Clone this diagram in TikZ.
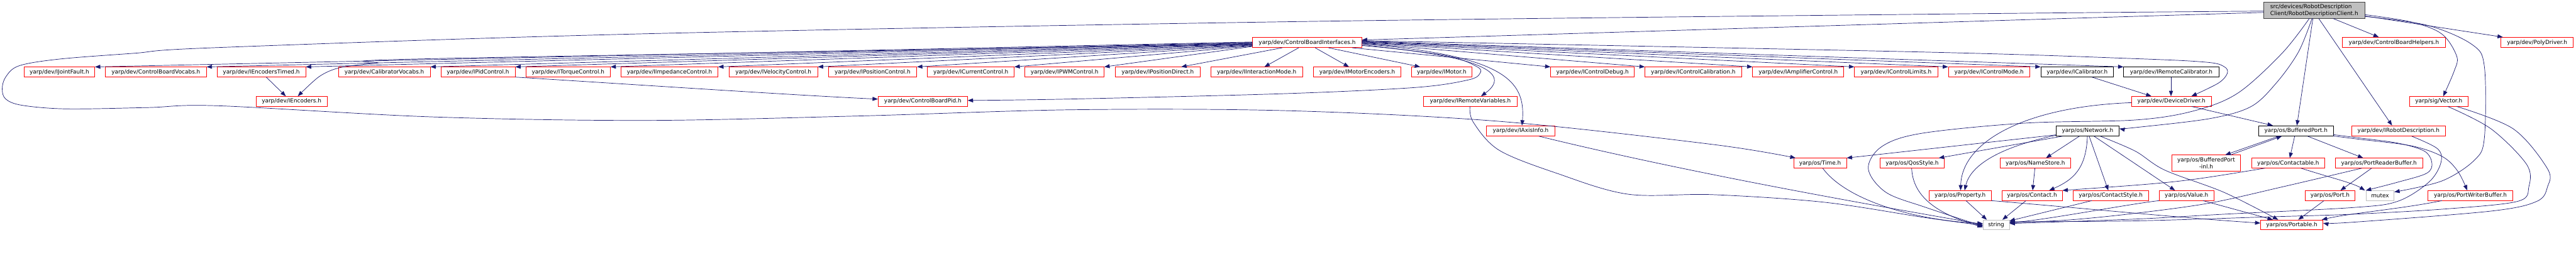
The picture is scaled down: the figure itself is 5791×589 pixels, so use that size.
\documentclass[tikz,border=0pt]{standalone}
\usepackage{fontspec}
\setmainfont{DejaVu Sans}
\usetikzlibrary{arrows.meta}
\definecolor{edgec}{HTML}{191970}
\definecolor{redb}{HTML}{FF0000}
\definecolor{blkb}{HTML}{404040}
\definecolor{grayb}{HTML}{BFBFBF}
\newcommand\nd[7]{\node[#6, minimum width={#4-#2}, minimum height={#5-#3}] (#1) at ({(#2+#4)/2},{(#3+#5)/2}) {#7};}
\tikzset{
  x=1pt, y=-1pt,
  nbox/.style={draw=redb, line width=1pt, fill=white, inner sep=0pt, font=\fontsize{12.6}{15}\selectfont},
  kbox/.style={nbox, draw=black},
  gbox/.style={nbox, draw=grayb},
  rbox/.style={nbox, draw=blkb, fill=grayb, align=left},
  edge/.style={draw=edgec, line width=1pt, -{Triangle[length=12pt,width=9pt]}, fill=none},
}
\begin{document}
\begin{tikzpicture}
\useasboundingbox (0,0) rectangle (5791,589);
% row 0/1
\nd{root}{5089}{5}{5316}{41}{rbox}{src/devices/RobotDescription\\Client/RobotDescriptionClient.h}
\nd{cbi}{2816}{84}{3061}{107}{nbox}{yarp/dev/ControlBoardInterfaces.h}
\nd{cbh}{5266}{84}{5497}{107}{nbox}{yarp/dev/ControlBoardHelpers.h}
\nd{poly}{5622}{84}{5785}{107}{nbox}{yarp/dev/PolyDriver.h}
% row 2
\nd{ijf}{54}{151}{213}{173}{nbox}{yarp/dev/IJointFault.h}
\nd{cbv}{237}{151}{464}{173}{nbox}{yarp/dev/ControlBoardVocabs.h}
\nd{iet}{488}{151}{687}{173}{nbox}{yarp/dev/IEncodersTimed.h}
\nd{calv}{761}{151}{967}{173}{nbox}{yarp/dev/CalibratorVocabs.h}
\nd{ipid}{991}{151}{1158}{173}{nbox}{yarp/dev/IPidControl.h}
\nd{itq}{1182}{151}{1372}{173}{nbox}{yarp/dev/ITorqueControl.h}
\nd{iimp}{1396}{151}{1614}{173}{nbox}{yarp/dev/IImpedanceControl.h}
\nd{ivel}{1639}{151}{1838}{173}{nbox}{yarp/dev/IVelocityControl.h}
\nd{ipos}{1862}{151}{2061}{173}{nbox}{yarp/dev/IPositionControl.h}
\nd{icur}{2085}{151}{2280}{173}{nbox}{yarp/dev/ICurrentControl.h}
\nd{ipwm}{2304}{151}{2482}{173}{nbox}{yarp/dev/IPWMControl.h}
\nd{ipd}{2507}{151}{2698}{173}{nbox}{yarp/dev/IPositionDirect.h}
\nd{iim}{2722}{151}{2928}{173}{nbox}{yarp/dev/IInteractionMode.h}
\nd{ime}{2953}{151}{3149}{173}{nbox}{yarp/dev/IMotorEncoders.h}
\nd{imot}{3173}{151}{3309}{173}{nbox}{yarp/dev/IMotor.h}
\nd{icd}{3486}{151}{3674}{173}{nbox}{yarp/dev/IControlDebug.h}
\nd{icc}{3698}{151}{3915}{173}{nbox}{yarp/dev/IControlCalibration.h}
\nd{iamp}{3940}{151}{4145}{173}{nbox}{yarp/dev/IAmplifierControl.h}
\nd{icl}{4169}{151}{4356}{173}{nbox}{yarp/dev/IControlLimits.h}
\nd{icm}{4380}{151}{4563}{173}{nbox}{yarp/dev/IControlMode.h}
\nd{ical}{4588}{151}{4751}{173}{kbox}{yarp/dev/ICalibrator.h}
\nd{irc}{4774}{151}{4988}{173}{kbox}{yarp/dev/IRemoteCalibrator.h}
% row 3
\nd{ienc}{576}{217}{735}{239}{nbox}{yarp/dev/IEncoders.h}
\nd{cbpid}{1974}{217}{2175}{239}{nbox}{yarp/dev/ControlBoardPid.h}
\nd{irv}{3200}{217}{3411}{239}{nbox}{yarp/dev/IRemoteVariables.h}
\nd{dd}{4792}{217}{4971}{239}{nbox}{yarp/dev/DeviceDriver.h}
\nd{vec}{5417}{217}{5548}{239}{nbox}{yarp/sig/Vector.h}
% row 4
\nd{iax}{3342}{283}{3495}{306}{nbox}{yarp/dev/IAxisInfo.h}
\nd{net}{4622}{283}{4764}{306}{kbox}{yarp/os/Network.h}
\nd{bp}{5078}{283}{5245}{306}{kbox}{yarp/os/BufferedPort.h}
\nd{ird}{5287}{283}{5497}{306}{nbox}{yarp/dev/IRobotDescription.h}
% row 5
\nd{time}{4032}{356}{4151}{378}{nbox}{yarp/os/Time.h}
\nd{qos}{4226}{356}{4371}{378}{nbox}{yarp/os/QosStyle.h}
\nd{ns}{4496}{356}{4655}{378}{nbox}{yarp/os/NameStore.h}
\node[nbox, align=center, minimum width=155, minimum height=36] (bpi) at (4959.5,367) {yarp/os/BufferedPort\\-inl.h};
\nd{ctb}{5062}{356}{5226}{378}{nbox}{yarp/os/Contactable.h}
\nd{prb}{5250}{356}{5446}{378}{nbox}{yarp/os/PortReaderBuffer.h}
% row 6
\nd{prop}{4337}{429}{4476}{451}{nbox}{yarp/os/Property.h}
\nd{con}{4500}{429}{4636}{451}{nbox}{yarp/os/Contact.h}
\nd{cs}{4660}{429}{4830}{451}{nbox}{yarp/os/ContactStyle.h}
\nd{val}{4854}{429}{4977}{451}{nbox}{yarp/os/Value.h}
\nd{port}{5182}{429}{5294}{451}{nbox}{yarp/os/Port.h}
\nd{mutex}{5319}{429}{5382}{451}{gbox}{mutex}
\nd{pwb}{5458}{429}{5649}{451}{nbox}{yarp/os/PortWriterBuffer.h}
% row 7
\nd{str}{4458}{495}{4517}{517}{gbox}{string}
\nd{portable}{5082}{495}{5222}{517}{nbox}{yarp/os/Portable.h}

% ---- edges from root
\draw[edge] ([yshift=-5]root.west) -- ([yshift=5.5]cbi.east);
\draw[edge] plot[smooth,tension=0.55] coordinates {([yshift=-2]root.west) (4330,32) (2890,49) (1450,76) (490,107) (300,120) (133,133) (43,148) (13,173) (5,200) (13,223) (50,237) (150,245) (333,242) (490,238) (970,263) (1450,271) (1930,261) (2410,247) (2890,249) (3370,273) (3850,325) ([xshift=5]time.north west)};
\draw[edge] plot[smooth,tension=0.55] coordinates {([xshift=103]root.south west) (5130,120) (5030,210) (4930,250) (4800,270) (4553,277) (4320,300) (4230,330) (4200,380) (4240,433) (4330,467) ([yshift=-3]str.west)};
\draw[edge] plot[smooth,tension=0.55] coordinates {([xshift=109]root.south west) (5167,117) (5117,187) (5060,240) (4967,267) (4800,287) ([yshift=5]net.east)};
\draw[edge] ([xshift=111]root.south west) -- ([xshift=86]bp.north west);
\draw[edge] ([xshift=124]root.south west) -- ([xshift=91]ird.north west);
\draw[edge] ([xshift=156]root.south west) -- ([xshift=82]cbh.north west);
\draw[edge] ([yshift=-13]root.east) -- ([xshift=5]poly.north west);
\draw[edge] plot[smooth,tension=0.55] coordinates {([yshift=-10]root.east) (5423,50) (5490,77) (5523,127) (5517,160) ([xshift=76]vec.north west)};
\draw[edge] plot[smooth,tension=0.55] coordinates {([yshift=-14]root.east) (5457,57) (5557,100) (5585,150) (5585,310) (5563,360) (5490,407) ([yshift=8]mutex.east)};

% ---- fan from ControlBoardInterfaces
\foreach \n/\s in {ijf/1, cbv/0, iet/-1, calv/-2, ipid/-3, itq/-4, iimp/-5, ivel/-6, ipos/-7, icur/-8, ipwm/-9}
  \draw[edge] ([yshift=\s]cbi.west) -- (\n.north east);
\draw[edge] ([xshift=67]cbi.south west) -- ([xshift=-43]ipd.north east);
\draw[edge] ([xshift=104]cbi.south west) -- ([xshift=121]iim.north west);
\draw[edge] ([xshift=141]cbi.south west) -- ([xshift=80]ime.north west);
\draw[edge] ([xshift=171]cbi.south west) -- ([xshift=20]imot.north west);
\draw[edge] ([xshift=224]cbi.south west) -- (icd.north west);
\foreach \n/\s in {irc/3, ical/2, icm/1, icl/0, iamp/-1, icc/-2}
  \draw[edge] ([yshift=\s]cbi.east) -- (\n.north west);
\draw[edge] plot[smooth,tension=0.55] coordinates {([yshift=4]cbi.east) (4320,117) (4800,132) (4960,140) (5000,150) (5007,165) (4987,187) ([xshift=135]dd.north west)};
\draw[edge] plot[smooth,tension=0.5] coordinates {([yshift=-4]cbi.west) (970,132) (847,142) (765,152) (718,172) ([xshift=94]ienc.north west)};
\draw[edge] plot[smooth,tension=0.55] coordinates {([yshift=-5]cbi.east) (3250,125) (3320,150) (3327,165) (3300,180) (3180,197) (2880,211) (2400,223) ([yshift=2]cbpid.east)};
\draw[edge] ([yshift=-7]cbi.east) .. controls (3330,125) and (3400,165) .. ([xshift=130]irv.north west);
\draw[edge] ([yshift=-3]cbi.east) .. controls (3380,125) and (3430,180) .. ([xshift=80]iax.north west);

% ---- row 2/3
\draw[edge] ([xshift=111]iet.south west) -- ([xshift=67]ienc.north west);
\draw[edge] (ipid.south east) .. controls (1500,195) and (1800,215) .. ([yshift=5]cbpid.west);
\draw[edge] ([xshift=115]ical.south west) -- ([xshift=45]dd.north west);
\draw[edge] ([xshift=107]irc.south west) -- ([xshift=89]dd.north west);
\draw[edge] ([yshift=-3]dd.west) .. controls (4550,240) and (4410,320) .. ([xshift=71]prop.north west);
\draw[edge] ([xshift=135]dd.south west) -- ([xshift=32]bp.north west);
\draw[edge] plot[smooth,tension=0.55] coordinates {([xshift=105]irv.south west) (3312,275) (3370,338) (3500,390) (3660,437) (3850,438) (4100,455) (4330,490) ([yshift=-1]str.west)};
\draw[edge] ([xshift=118]iax.south west) .. controls (3800,390) and (4200,460) .. ([yshift=1]str.west);
\draw[edge] ([xshift=66]time.south west) .. controls (4150,450) and (4300,495) .. ([yshift=3]str.west);
\draw[edge] ([xshift=72]qos.south west) .. controls (4300,440) and (4350,480) .. ([yshift=-5]str.west);

% ---- Network
\draw[edge] ([yshift=-9]net.west) -- (time.north east);
\draw[edge] ([xshift=15]net.south west) -- ([xshift=-13]qos.north east);
\draw[edge] ([yshift=-10]net.west) .. controls (4500,330) and (4430,370) .. ([xshift=80]prop.north west);
\draw[edge] ([xshift=53]net.south west) -- ([xshift=104]ns.north west);
\draw[edge] ([xshift=71]net.south west) .. controls (4690,380) and (4660,405) .. ([xshift=107]con.north west);
\draw[edge] ([xshift=75]net.south west) -- ([xshift=80]cs.north west);
\draw[edge] ([xshift=86]net.south west) -- ([xshift=36]val.north west);
\draw[edge] plot[smooth,tension=0.55] coordinates {([xshift=100]net.south west) (4800,340) (4867,383) (5000,433) ([xshift=40]portable.north west)};
\draw[edge] ([xshift=79]ns.south west) -- ([xshift=70]con.north west);
\draw[edge] ([xshift=83]prop.south west) -- ([xshift=9]str.north west);
\draw[edge] ([xshift=55]con.south west) -- ([xshift=44]str.north west);
\draw[edge] ([xshift=43]cs.south west) -- ([yshift=9]str.east);
\draw[edge] (prop.south east) .. controls (4700,470) and (4900,490) .. ([yshift=4]portable.west);
\draw[edge] (val.south west) .. controls (4780,460) and (4600,495) .. ([yshift=5]str.east);
\draw[edge] ([xshift=99]val.south west) -- ([xshift=28]portable.north west);
\draw[edge] ([xshift=30]ctb.south west) .. controls (4900,410) .. (con.north east);

% ---- BufferedPort and right part
\draw[edge] ([xshift=45]bp.south west) -- ([xshift=121]bpi.north west);
\draw[edge] ([xshift=133]bpi.north west) -- ([xshift=52]bp.south west);
\draw[edge] ([xshift=81]bp.south west) -- ([xshift=86]ctb.north west);
\draw[edge] ([xshift=110]bp.south west) -- ([xshift=63]prb.north west);
\draw[edge] plot[smooth,tension=0.55] coordinates {([yshift=-8.5]bp.east) (5300,310) (5390,322) (5450,340) (5467,367) (5455,390) (5390,410) (mutex.north west)};
\draw[edge] plot[smooth,tension=0.55] coordinates {([yshift=-11.5]bp.east) (5300,313) (5420,328) (5490,352) (5525,385) ([xshift=89]pwb.north west)};
\draw[edge] ([xshift=111]ctb.south west) .. controls (5240,400) and (5290,412) .. ([xshift=-2]mutex.north west);
\draw[edge] ([xshift=82]prb.south west) -- ([xshift=80]port.north west);
\draw[edge] plot[smooth,tension=0.55] coordinates {([xshift=60]prb.south west) (5133,420) (4967,457) (4800,480) (4650,495) ([yshift=5]str.east)};
\draw[edge] ([xshift=43]port.south west) -- ([xshift=85]portable.north west);
\draw[edge] plot[smooth,tension=0.55] coordinates {([xshift=135]ird.south west) (5480,335) (5487,367) (5460,410) (5390,453) (5290,467) (5000,482) (4800,493) ([yshift=3]str.east)};
\draw[edge] plot[smooth,tension=0.55] coordinates {([xshift=86]vec.south west) (5600,290) (5680,370) (5685,420) (5660,453) (5500,470) (5290,482) (5100,488) (4800,497) ([yshift=7]str.east)};
\draw[edge] plot[smooth,tension=0.55] coordinates {([xshift=106]vec.south west) (5650,290) (5727,380) (5727,420) (5703,453) (5600,475) (5290,500) ([yshift=4]portable.east)};
\draw[edge] ([xshift=32]pwb.south west) .. controls (5400,470) and (5280,480) .. ([xshift=-3]portable.north east);
\end{tikzpicture}
\end{document}
